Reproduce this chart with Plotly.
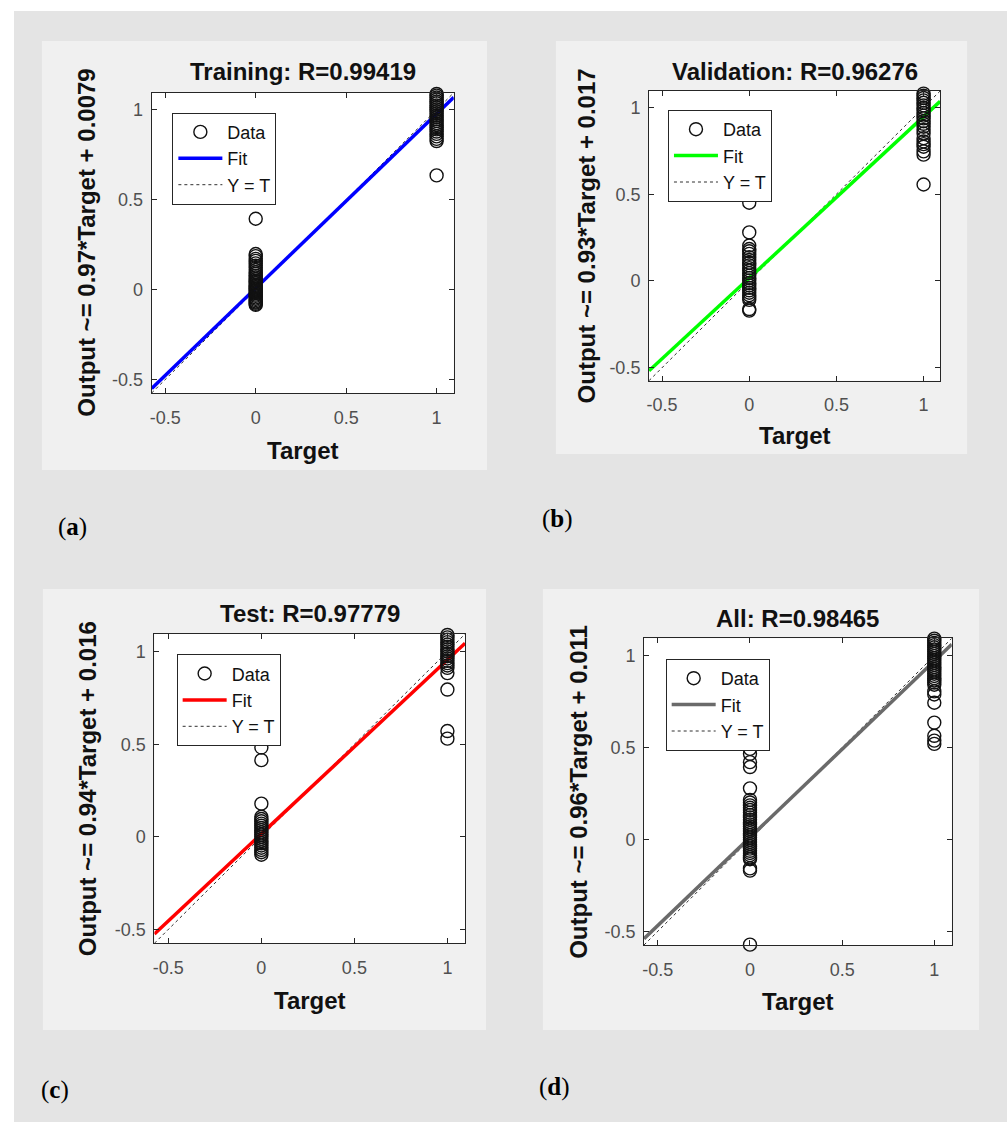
import plotly.graph_objects as go

W, H = 1007, 1122

# ---------------- data ----------------
panel_titles = ["Training: R=0.99419", "Validation: R=0.96276", "Test: R=0.97779", "All: R=0.98465"]
ylabels = ["Output ~= 0.97*Target + 0.0079", "Output ~= 0.93*Target + 0.017",
           "Output ~= 0.94*Target + 0.016", "Output ~= 0.96*Target + 0.011"]
panel_tags = ["a", "b", "c", "d"]
fit_slopes = [0.97, 0.93, 0.94, 0.96]
fit_intercepts = [0.0079, 0.017, 0.016, 0.011]
fit_colors = ["#0000ff", "#00ff00", "#ff0000", "#6a6a6a"]
axis_limits = [-0.575, 1.095]
tick_values = [-0.5, 0, 0.5, 1]
tick_labels = ["-0.5", "0", "0.5", "1"]

train_t0 = [0.394, 0.198, 0.186, 0.171, 0.160, 0.146, 0.133, 0.121, 0.109, 0.097, 0.088, 0.077,
            0.068, 0.059, 0.050, 0.043, 0.035, 0.027, 0.020, 0.013, 0.006, 0.000, -0.006, -0.013,
            -0.020, -0.028, -0.035, -0.043, -0.051, -0.058, -0.066, -0.072, -0.079, -0.085]
train_t1 = [1.088, 1.079, 1.068, 1.057, 1.046, 1.036, 1.024, 1.013, 1.002, 0.992, 0.981, 0.970,
            0.960, 0.948, 0.938, 0.926, 0.915, 0.903, 0.891, 0.879, 0.866, 0.852, 0.838, 0.826, 0.635]
val_t0 = [0.451, 0.280, 0.204, 0.184, 0.171, 0.156, 0.137, 0.121, 0.105, 0.090, 0.074, 0.060,
          0.045, 0.031, 0.017, 0.003, -0.012, -0.026, -0.040, -0.054, -0.068, -0.082, -0.096,
          -0.109, -0.162, -0.171, -0.578]
val_t1 = [1.080, 1.068, 1.055, 1.041, 1.027, 1.012, 0.997, 0.983, 0.968, 0.953, 0.937, 0.921,
          0.906, 0.889, 0.870, 0.850, 0.823, 0.804, 0.789, 0.774, 0.747, 0.728, 0.556]
test_t0 = [0.482, 0.414, 0.179, 0.108, 0.096, 0.084, 0.071, 0.060, 0.048, 0.036, 0.024, 0.012,
           0.001, -0.011, -0.023, -0.035, -0.047, -0.059, -0.071, -0.083, -0.097]
test_t1 = [1.090, 1.077, 1.064, 1.051, 1.038, 1.026, 1.013, 1.001, 0.988, 0.975, 0.963, 0.950,
           0.938, 0.925, 0.912, 0.884, 0.795, 0.571, 0.530]
all_t0 = [0.493, 0.466, 0.421, 0.394, 0.278, 0.215, 0.201, 0.185, 0.172, 0.160, 0.146, 0.133,
          0.120, 0.107, 0.094, 0.082, 0.070, 0.058, 0.046, 0.034, 0.022, 0.010, -0.002, -0.014,
          -0.026, -0.038, -0.050, -0.062, -0.074, -0.086, -0.098, -0.108, -0.158, -0.170, -0.573]
all_t1 = [1.093, 1.082, 1.070, 1.058, 1.046, 1.034, 1.022, 1.010, 0.998, 0.986, 0.974, 0.962,
          0.950, 0.938, 0.926, 0.914, 0.902, 0.890, 0.878, 0.866, 0.854, 0.842, 0.806, 0.789,
          0.744, 0.636, 0.564, 0.538, 0.520]

outputs_at_0 = [train_t0, val_t0, test_t0, all_t0]
outputs_at_1 = [train_t1, val_t1, test_t1, all_t1]

# ---------------- layout geometry (pixels) ----------------
boxes = [(150, 452.7, 92.7, 393), (648.3, 940, 91, 380.7),
         (152.7, 464, 634, 943.3), (643.3, 951.7, 638.3, 945)]
panel_bgs = [(40, 486, 41, 470), (555, 967, 41, 454), (41, 485, 589, 1030), (542, 979, 589, 1030)]
title_y = [71.7, 71.7, 613.3, 618]
ylab_x = [85, 585.7, 85.7, 577.3]
xlab_y = [450, 435, 1000, 1001.7]
legend_pos = [(170.7, 112.7), (667.3, 110), (175, 654.3), (665, 659)]
tag_pos = [(71, 527), (557, 519), (53, 1090), (554, 1087)]


def px(x):
    return x / W


def py(y):
    return 1 - y / H


fig = go.Figure()
shapes = [dict(type="rect", xref="paper", yref="paper", x0=px(12), x1=px(1007), y0=py(1122), y1=py(11),
               fillcolor="#e4e4e4", line=dict(width=0), layer="below")]
annotations = []
layout = {}

for i in range(4):
    sfx = "" if i == 0 else str(i + 1)
    xa, ya = "x" + sfx, "y" + sfx
    leg = "legend" if i == 0 else "legend" + str(i + 1)
    lo, hi = axis_limits
    t0, t1 = outputs_at_0[i], outputs_at_1[i]
    targets = [0] * len(t0) + [1] * len(t1)
    outs = t0 + t1

    fig.add_trace(go.Scatter(x=[lo, hi], y=[lo, hi], mode="lines", name="Y = T",
                             line=dict(color="#303030", width=1, dash="dot"),
                             xaxis=xa, yaxis=ya, legend=leg, legendrank=3))
    fig.add_trace(go.Scatter(x=[lo, hi], y=[fit_slopes[i] * lo + fit_intercepts[i], fit_slopes[i] * hi + fit_intercepts[i]],
                             mode="lines", name="Fit", line=dict(color=fit_colors[i], width=3.5),
                             xaxis=xa, yaxis=ya, legend=leg, legendrank=2))
    fig.add_trace(go.Scatter(x=targets, y=outs, mode="markers", name="Data", cliponaxis=False,
                             marker=dict(symbol="circle-open", size=13, color="#111111", line=dict(width=1.4)),
                             xaxis=xa, yaxis=ya, legend=leg, legendrank=1))

    bx0, bx1, by0, by1 = boxes[i]
    common = dict(range=axis_limits, tickvals=tick_values, ticktext=tick_labels, ticks="inside",
                  ticklen=5, tickcolor="#262626", showline=True, linecolor="#262626", linewidth=1,
                  mirror="ticks", showgrid=False, zeroline=False,
                  tickfont=dict(family="Liberation Sans", size=18, color="#505050"))
    layout["xaxis" + sfx] = dict(domain=[px(bx0), px(bx1)], anchor=ya, ticklabelstandoff=8, **common)
    layout["yaxis" + sfx] = dict(domain=[py(by1), py(by0)], anchor=xa, ticklabelstandoff=4, **common)

    lx, ly = legend_pos[i]
    layout[leg] = dict(x=px(lx), y=py(ly), xanchor="left", yanchor="top", bgcolor="white",
                       bordercolor="#262626", borderwidth=1, tracegroupgap=0, itemwidth=44,
                       font=dict(family="Liberation Sans", size=18, color="#111111"))

    # panel background (paper) and white plotting box (axis domain)
    gx0, gx1, gy0, gy1 = panel_bgs[i]
    shapes.append(dict(type="rect", xref="paper", yref="paper", x0=px(gx0), x1=px(gx1), y0=py(gy1), y1=py(gy0),
                       fillcolor="#f0f0f0", line=dict(width=0), layer="below"))
    shapes.append(dict(type="rect", xref=xa + " domain", yref=ya + " domain", x0=0, x1=1, y0=0, y1=1,
                       fillcolor="#ffffff", line=dict(width=0), layer="below"))

    cx = (bx0 + bx1) / 2
    cy = (by0 + by1) / 2
    bold = dict(family="Liberation Sans", size=24, color="#111111", weight="bold")
    annotations.append(dict(text=panel_titles[i], x=px(cx), y=py(title_y[i]), xref="paper", yref="paper",
                            xanchor="center", yanchor="middle", showarrow=False, font=bold))
    annotations.append(dict(text="Target", x=px(cx), y=py(xlab_y[i]), xref="paper", yref="paper",
                            xanchor="center", yanchor="middle", showarrow=False, font=bold))
    annotations.append(dict(text=ylabels[i], x=px(ylab_x[i]), y=py(cy), xref="paper", yref="paper",
                            xanchor="center", yanchor="middle", showarrow=False, textangle=-90, font=bold))
    tx, ty = tag_pos[i]
    annotations.append(dict(text="(<b>" + panel_tags[i] + "</b>)", x=px(tx), y=py(ty), xref="paper", yref="paper",
                            xanchor="center", yanchor="middle", showarrow=False,
                            font=dict(family="Liberation Serif", size=25, color="#000000")))

fig.update_layout(width=W, height=H, margin=dict(l=0, r=0, t=0, b=0), paper_bgcolor="white",
                  plot_bgcolor="white", shapes=shapes, annotations=annotations, showlegend=True, **layout)

fig.write_html("out.html", config={"displayModeBar": False},
               post_script="document.body.style.margin='0';document.body.style.overflow='hidden';")
